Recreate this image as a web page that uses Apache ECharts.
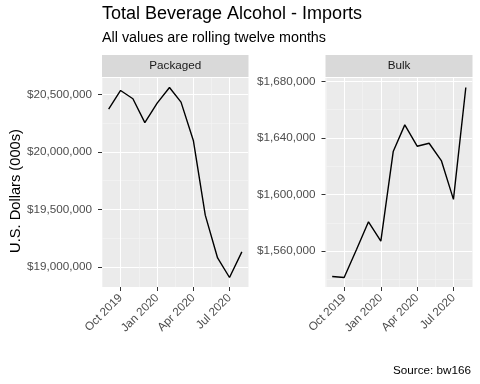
<!DOCTYPE html>
<html><head><meta charset="utf-8">
<script src="https://cdn.jsdelivr.net/npm/echarts@6/dist/echarts.min.js"></script>
<style>html,body{margin:0;padding:0;background:#fff}#c{width:480px;height:384px}</style>
</head><body><div id="c"></div>
<script>
// ---- data ----
const months = ['2019-09-01','2019-10-01','2019-11-01','2019-12-01','2020-01-01','2020-02-01',
                '2020-03-01','2020-04-01','2020-05-01','2020-06-01','2020-07-01','2020-08-01'];
const packaged = [20371000,20533000,20461000,20254000,20423000,20559000,
                  20432000,20099000,19450000,19078000,18908000,19131000];
const bulk = [1542100,1541400,1561200,1580800,1567100,1630400,
              1649300,1634200,1636300,1623800,1596600,1675700];
const panelNames = ['Packaged','Bulk'];
const xTickDates = ['2019-10-01','2020-01-01','2020-04-01','2020-07-01'];
const xMinorDates = ['2019-08-16','2019-11-16','2020-02-15','2020-05-16','2020-08-16'];
const yTicksPackaged = [19000000,19500000,20000000,20500000];
const yMinorPackaged = [18750000,19250000,19750000,20250000,20750000];
const yTicksBulk = [1560000,1600000,1640000,1680000];
const yMinorBulk = [1540000,1580000,1620000,1660000,1700000];
const monthNames = ['Jan','Feb','Mar','Apr','May','Jun','Jul','Aug','Sep','Oct','Nov','Dec'];
const titleText = 'Total Beverage Alcohol - Imports';
const subtitleText = 'All values are rolling twelve months';
const yTitle = 'U.S. Dollars (000s)';
const captionText = 'Source: bw166';

// ---- helpers ----
const FONT = "'Liberation Sans', Arial, Helvetica, sans-serif";
function ts(s){const p=s.split('-').map(Number);return new Date(p[0],p[1]-1,p[2]).getTime();}
const xs = months.map(ts);
const xPad = (xs[xs.length-1]-xs[0])*0.05;
const xMin = xs[0]-xPad, xMax = xs[xs.length-1]+xPad;
function yExt(arr){const lo=Math.min(...arr),hi=Math.max(...arr),p=(hi-lo)*0.05;return [lo-p,hi+p];}
const extP = yExt(packaged), extB = yExt(bulk);
const inX = v => v>=xMin && v<=xMax;
const xTicks = xTickDates.map(ts).filter(inX);
const xMinor = xMinorDates.map(ts).filter(inX);
function fmtMoney(v){return '$'+Math.round(v).toString().replace(/\B(?=(\d{3})+(?!\d))/g, ',');}
function fmtDate(v){const d=new Date(v);return monthNames[d.getMonth()]+' '+d.getFullYear();}

const panels = [
  {left:102, width:146.5, data:packaged, ext:extP, ticks:yTicksPackaged, minor:yMinorPackaged},
  {left:325.5, width:147, data:bulk, ext:extB, ticks:yTicksBulk, minor:yMinorBulk}
];
const TOP = 78, H = 209;

const grid=[], xAxis=[], yAxis=[], series=[], graphic=[];
panels.forEach((p,i)=>{
  grid.push({left:p.left, top:TOP, width:p.width, height:H, show:true, backgroundColor:'#EBEBEB', borderWidth:0});
  const yMaj = p.ticks.filter(v=>v>=p.ext[0]&&v<=p.ext[1]);
  const yMin = p.minor.filter(v=>v>=p.ext[0]&&v<=p.ext[1]);
  // minor axes first (drawn underneath)
  xAxis.push({type:'value', gridIndex:i, min:xMin, max:xMax, position:'bottom',
    axisLine:{show:false}, axisTick:{show:false, customValues:xMinor}, axisLabel:{show:false, customValues:xMinor},
    splitLine:{show:true, lineStyle:{color:'#F5F5F5', width:0.6}}});
  yAxis.push({type:'value', gridIndex:i, min:p.ext[0], max:p.ext[1], position:'left',
    axisLine:{show:false}, axisTick:{show:false, customValues:yMin}, axisLabel:{show:false, customValues:yMin},
    splitLine:{show:true, lineStyle:{color:'#F5F5F5', width:0.6}}});
  // major axes
  xAxis.push({type:'value', gridIndex:i, min:xMin, max:xMax, position:'bottom',
    axisLine:{show:false},
    axisTick:{show:true, length:4, customValues:xTicks, lineStyle:{color:'#333333', width:1}},
    axisLabel:{show:true, customValues:xTicks, rotate:45, margin:9, color:'#4D4D4D', fontSize:11.7, fontFamily:FONT,
      formatter:fmtDate},
    splitLine:{show:true, lineStyle:{color:'#FFFFFF', width:1.1}}});
  yAxis.push({type:'value', gridIndex:i, min:p.ext[0], max:p.ext[1], position:'left',
    axisLine:{show:false},
    axisTick:{show:true, length:4, customValues:yMaj, lineStyle:{color:'#333333', width:1}},
    axisLabel:{show:true, customValues:yMaj, margin:10, color:'#4D4D4D', fontSize:11.7, fontFamily:FONT, formatter:fmtMoney},
    splitLine:{show:true, lineStyle:{color:'#FFFFFF', width:1.1}}});
  series.push({type:'line', xAxisIndex:2*i+1, yAxisIndex:2*i+1, showSymbol:false, symbol:'none',
    lineStyle:{color:'#000000', width:1.4}, data:xs.map((x,k)=>[x,p.data[k]]), z:5});
  // strip
  graphic.push({type:'rect', left:p.left, top:55, shape:{width:p.width, height:22}, style:{fill:'#D9D9D9'}, silent:true});
  graphic.push({type:'text', x:p.left+p.width/2, y:66, style:{text:panelNames[i], fill:'#1A1A1A', font:'11.7px '+FONT, textAlign:'center', textVerticalAlign:'middle'}, silent:true});
});
graphic.push({type:'text', x:15.5, y:191, rotation:Math.PI/2,
  style:{text:yTitle, fill:'#000000', font:'14.67px '+FONT, textAlign:'center', textVerticalAlign:'middle'}, silent:true});

const chart = echarts.init(document.getElementById('c'), null, {renderer:'canvas'});
chart.setOption({
  animation:false,
  backgroundColor:'#FFFFFF',
  title:[
    {text:titleText, left:102, top:5.5, padding:0, textStyle:{fontFamily:FONT, fontSize:18, fontWeight:'normal', color:'#000000'}},
    {text:subtitleText, left:102, top:31, padding:0, textStyle:{fontFamily:FONT, fontSize:14.35, fontWeight:'normal', color:'#000000'}},
    {text:captionText, right:9, top:364.5, padding:0, textStyle:{fontFamily:FONT, fontSize:11.7, fontWeight:'normal', color:'#000000'}}
  ],
  grid, xAxis, yAxis, series, graphic
});
</script></body></html>
